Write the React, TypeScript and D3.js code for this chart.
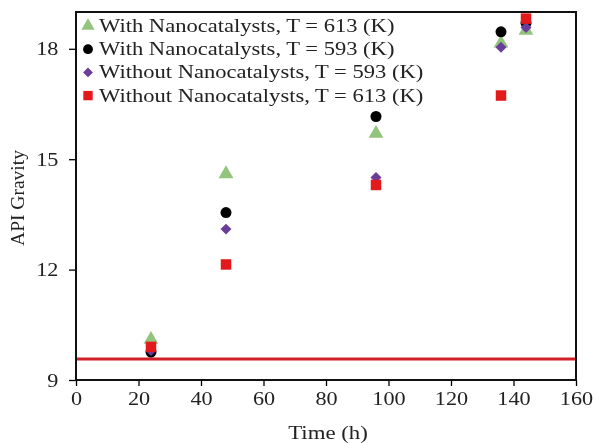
import * as d3 from "d3";
import { useRef, useEffect } from "react";

const times = [24, 48, 96, 136, 144];

const withNano613 = [10.1, 14.6, 15.7, 18.15, 18.5];
const withNano593 = [9.76, 13.55, 16.16, 18.46, 18.7];
const withoutNano593 = [9.8, 13.1, 14.5, 18.04, 18.58];
const withoutNano613 = [9.9, 12.14, 14.3, 16.73, 18.82];

const seriesNames = [
  "With Nanocatalysts, T = 613 (K)",
  "With Nanocatalysts, T = 593 (K)",
  "Without Nanocatalysts, T = 593 (K)",
  "Without Nanocatalysts, T = 613 (K)",
];

const baseline = 9.57;

const xTicks = [0, 20, 40, 60, 80, 100, 120, 140, 160];
const yTicks = [9, 12, 15, 18];

const App = () => {
  const container = useRef(null);

  useEffect(() => {
    createChart();
  });

  const createChart = () => {
    const node = container.current;
    const font = "'Liberation Serif', 'Times New Roman', serif";
    const stretch = 1.17; // text in the source is a bit wide

    const containerdims = { width: 594, height: 443 };
    const margins = { t: 12, b: 63, r: 18, l: 76 };
    const chartdims = {
      width: containerdims.width - margins.l - margins.r,
      height: containerdims.height - margins.t - margins.b,
    };

    const diamond = {
      draw(context, size) {
        const r = Math.sqrt(size / 2);
        context.moveTo(0, -r);
        context.lineTo(r, 0);
        context.lineTo(0, r);
        context.lineTo(-r, 0);
        context.closePath();
      },
    };

    const series = [
      { name: seriesNames[0], vals: withNano613, shape: d3.symbolTriangle, size: 95, color: "#93c47d" },
      { name: seriesNames[1], vals: withNano593, shape: d3.symbolCircle, size: 95, color: "#000000" },
      { name: seriesNames[2], vals: withoutNano593, shape: diamond, size: 60, color: "#6a3d9a" },
      { name: seriesNames[3], vals: withoutNano613, shape: d3.symbolSquare, size: 110, color: "#e31a1c" },
    ];

    const svg = d3
      .select(node)
      .selectAll("svg")
      .data([0])
      .join("svg")
      .attr("width", containerdims.width)
      .attr("height", containerdims.height)
      .style("display", "block")
      .style("font-family", font);

    svg.selectAll("*").remove();

    const xScale = d3.scaleLinear().domain([0, 160]).range([0, chartdims.width]);
    const yScale = d3.scaleLinear().domain([9, 19]).range([chartdims.height, 0]);

    const plot_g = svg
      .append("g")
      .attr("transform", `translate(${margins.l}, ${margins.t})`);

    // baseline (original oil)
    plot_g
      .append("line")
      .attr("x1", 0)
      .attr("x2", chartdims.width)
      .attr("y1", yScale(baseline))
      .attr("y2", yScale(baseline))
      .attr("stroke", "#d0202a")
      .attr("stroke-width", 3);

    // axes
    const xAxis = d3.axisBottom(xScale).tickValues(xTicks).tickSize(6).tickSizeOuter(0).tickPadding(6);
    const yAxis = d3.axisLeft(yScale).tickValues(yTicks).tickSize(7).tickSizeOuter(0).tickPadding(8);

    const xg = plot_g
      .append("g")
      .attr("transform", `translate(0, ${chartdims.height})`)
      .call(xAxis);
    const yg = plot_g.append("g").call(yAxis);

    [xg, yg].forEach((g) => {
      g.select(".domain").remove();
      g.selectAll("line").attr("stroke", "#000").attr("stroke-width", 1.3);
      g.selectAll("text")
        .attr("fill", "#222")
        .attr("transform", `scale(${stretch},1)`)
        .style("font-size", "19px")
        .style("font-family", font);
    });

    // frame
    plot_g
      .append("rect")
      .attr("x", 0)
      .attr("y", 0)
      .attr("width", chartdims.width)
      .attr("height", chartdims.height)
      .attr("fill", "none")
      .attr("stroke", "#111")
      .attr("stroke-width", 2);

    // points
    series.forEach((s) => {
      plot_g
        .append("g")
        .selectAll("path")
        .data(s.vals.map((v, i) => ({ t: times[i], v })))
        .join("path")
        .attr("d", d3.symbol().type(s.shape).size(s.size))
        .attr("transform", (d) => `translate(${xScale(d.t)}, ${yScale(d.v)})`)
        .attr("fill", s.color);
    });

    // legend
    const legend_g = plot_g.append("g").attr("transform", "translate(12, 14)");
    series.forEach((s, i) => {
      const row = legend_g.append("g").attr("transform", `translate(0, ${i * 23.2})`);
      row
        .append("path")
        .attr("d", d3.symbol().type(s.shape).size(s.size * 0.8))
        .attr("fill", s.color);
      row
        .append("text")
        .attr("transform", `translate(11, 6) scale(1.22,1)`)
        .attr("fill", "#222")
        .style("font-size", "18.5px")
        .text(s.name);
    });

    // axis titles
    svg
      .append("text")
      .attr("transform", `translate(${margins.l + chartdims.width / 2 + 2}, 439) scale(${stretch},1)`)
      .attr("text-anchor", "middle")
      .attr("fill", "#222")
      .style("font-size", "19.5px")
      .text("Time (h)");

    svg
      .append("text")
      .attr("transform", `translate(24, ${margins.t + chartdims.height / 2 + 2}) rotate(-90)`)
      .attr("text-anchor", "middle")
      .attr("fill", "#222")
      .style("font-size", "19.5px")
      .text("API Gravity");
  };

  return <div ref={container} style={{ position: "fixed", top: 0, left: 0 }}></div>;
};

export default App;
